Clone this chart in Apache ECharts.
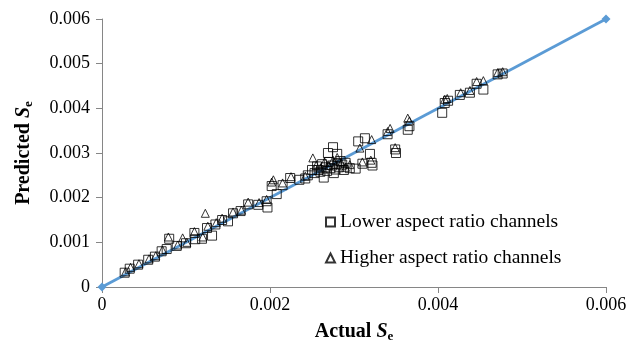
<!DOCTYPE html>
<html><head><meta charset="utf-8">
<script src="https://cdn.jsdelivr.net/npm/echarts@6/dist/echarts.min.js"></script>
<style>html,body{margin:0;padding:0;background:#fff}#c{width:630px;height:341px}</style>
</head><body><div id="c"></div>
<script>
const xTicks = [0, 0.002, 0.004, 0.006];
const yTicks = [0, 0.001, 0.002, 0.003, 0.004, 0.005, 0.006];
const lineX = [0, 0.006];
const lineY = [0, 0.006];
const lowerX = [0.00027,0.00033,0.00043,0.00055,0.00063,0.00071,0.00077,0.00080,0.00089,0.00100,0.00110,0.00111,0.00119,0.00125,0.00131,0.00135,0.00143,0.00150,0.00156,0.00165,0.00174,0.00186,0.00196,0.00197,0.00202,0.00208,0.00215,0.00224,0.00235,0.00242,0.00245,0.00250,0.00253,0.00256,0.00258,0.00260,0.00262,0.00264,0.00266,0.00268,0.00269,0.00270,0.00272,0.00274,0.00275,0.00276,0.00278,0.00280,0.00280,0.00282,0.00284,0.00286,0.00288,0.00290,0.00295,0.00302,0.00305,0.00310,0.00313,0.00319,0.00321,0.00322,0.00340,0.00349,0.00350,0.00364,0.00366,0.00405,0.00408,0.00412,0.00426,0.00438,0.00446,0.00454,0.00471,0.00477];
const lowerY = [0.00032,0.00041,0.00050,0.00061,0.00068,0.00080,0.00085,0.00108,0.00092,0.00098,0.00121,0.00107,0.00108,0.00132,0.00115,0.00140,0.00150,0.00147,0.00165,0.00170,0.00185,0.00184,0.00192,0.00178,0.00226,0.00208,0.00228,0.00244,0.00240,0.00243,0.00250,0.00262,0.00255,0.00270,0.00262,0.00258,0.00275,0.00245,0.00268,0.00260,0.00300,0.00280,0.00266,0.00272,0.00313,0.00255,0.00263,0.00298,0.00276,0.00268,0.00282,0.00274,0.00262,0.00278,0.00266,0.00265,0.00326,0.00276,0.00333,0.00298,0.00278,0.00272,0.00342,0.00308,0.00300,0.00352,0.00360,0.00390,0.00412,0.00417,0.00430,0.00435,0.00455,0.00442,0.00476,0.00478];
const higherX = [0.00028,0.00034,0.00044,0.00056,0.00064,0.00072,0.00079,0.00090,0.00096,0.00101,0.00110,0.00120,0.00123,0.00126,0.00136,0.00143,0.00156,0.00166,0.00174,0.00187,0.00196,0.00202,0.00204,0.00215,0.00225,0.00242,0.00251,0.00255,0.00260,0.00265,0.00270,0.00275,0.00280,0.00285,0.00290,0.00295,0.00307,0.00310,0.00321,0.00320,0.00340,0.00343,0.00349,0.00364,0.00366,0.00408,0.00411,0.00427,0.00438,0.00446,0.00454,0.00471,0.00477];
const higherY = [0.00034,0.00044,0.00052,0.00063,0.00070,0.00083,0.00112,0.00094,0.00110,0.00100,0.00124,0.00112,0.00165,0.00136,0.00144,0.00154,0.00168,0.00172,0.00190,0.00189,0.00196,0.00235,0.00240,0.00233,0.00247,0.00248,0.00289,0.00272,0.00266,0.00280,0.00272,0.00284,0.00290,0.00278,0.00268,0.00274,0.00311,0.00280,0.00330,0.00284,0.00348,0.00355,0.00312,0.00378,0.00372,0.00420,0.00422,0.00435,0.00440,0.00460,0.00462,0.00480,0.00482];

const zip = (a, b) => a.map((v, i) => [v, b[i]]);
const fmt = v => v === 0 ? '0' : v.toFixed(3);
const FONT = '"Liberation Serif", "Times New Roman", serif';
const titleRich = {
  b: { fontFamily: FONT, fontSize: 20, fontWeight: 'bold', color: '#000' },
  i: { fontFamily: FONT, fontSize: 20, fontWeight: 'bold', fontStyle: 'italic', color: '#000' },
  s: { fontFamily: FONT, fontSize: 13, fontWeight: 'bold', color: '#000', padding: [10, 0, 0, 0] }
};
const axisCommon = {
  axisLine: { show: true, lineStyle: { color: '#868686', width: 1 } },
  axisTick: { show: true, inside: false, length: 6, lineStyle: { color: '#868686' } },
  splitLine: { show: false }
};
const labelStyle = { color: '#000', fontFamily: FONT, fontSize: 18, formatter: fmt };
const chart = echarts.init(document.getElementById('c'));
chart.setOption({
  animation: false,
  backgroundColor: '#fff',
  grid: { left: 102, right: 24, top: 19, bottom: 54, containLabel: false, outerBoundsMode: 'none' },
  xAxis: Object.assign({
    type: 'value', min: xTicks[0], max: xTicks[xTicks.length - 1], interval: xTicks[1] - xTicks[0],
    name: '{b|Actual }{i|S}{s|e}', nameLocation: 'middle', nameGap: 33,
    nameTextStyle: { fontFamily: FONT, rich: titleRich },
    axisLabel: Object.assign({ margin: 9 }, labelStyle)
  }, axisCommon),
  yAxis: Object.assign({
    type: 'value', min: yTicks[0], max: yTicks[yTicks.length - 1], interval: yTicks[1] - yTicks[0],
    name: '{b|Predicted }{i|S}{s|e}', nameLocation: 'middle', nameGap: 67, nameRotate: 90,
    nameTextStyle: { fontFamily: FONT, rich: titleRich },
    axisLabel: Object.assign({ margin: 12 }, labelStyle)
  }, axisCommon),
  legend: {
    data: [
      { name: 'Lower aspect ratio channels', icon: 'rect' },
      { name: 'Higher aspect ratio channels', icon: 'triangle' }
    ],
    orient: 'vertical', left: 320, top: 207, itemWidth: 9, itemHeight: 9, itemGap: 16,
    textStyle: { fontFamily: FONT, fontSize: 19.5, lineHeight: 20, color: '#000' }
  },
  series: [
    {
      name: 'Line', type: 'line', data: zip(lineX, lineY), symbol: 'diamond', symbolSize: 9,
      lineStyle: { color: '#5B9BD5', width: 2.8 }, itemStyle: { color: '#5B9BD5' }, z: 1
    },
    {
      name: 'Lower aspect ratio channels', type: 'scatter', data: zip(lowerX, lowerY),
      symbol: 'rect', symbolSize: 9,
      itemStyle: { color: 'rgba(0,0,0,0)', borderColor: '#000', borderWidth: 1 }, z: 3
    },
    {
      name: 'Higher aspect ratio channels', type: 'scatter', data: zip(higherX, higherY),
      symbol: 'triangle', symbolSize: 8,
      itemStyle: { color: 'rgba(0,0,0,0)', borderColor: '#000', borderWidth: 1 }, z: 4
    }
  ]
});
</script></body></html>
